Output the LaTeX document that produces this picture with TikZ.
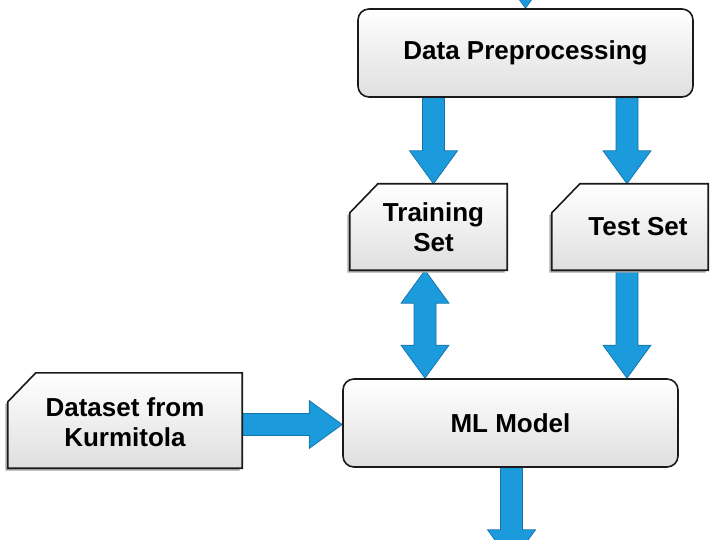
\documentclass[tikz,border=0pt]{standalone}
\usepackage{fontspec}
\setmainfont{Liberation Sans}
\usetikzlibrary{calc}
\pgfdeclarelayer{bg}
\pgfsetlayers{bg,main}
\definecolor{arrowfill}{HTML}{1B9BDC}
\definecolor{arrowline}{HTML}{1672AA}
\definecolor{boxbot}{HTML}{DFDFDF}
\definecolor{boxline}{HTML}{1A1A1A}
\tikzset{
  txt/.style={font=\fontsize{26}{30}\selectfont\bfseries, align=center},
  box/.style={txt, draw=boxline, line width=1.6pt, rounded corners=11pt,
    top color=white, bottom color=boxbot, minimum width=335pt, minimum height=88pt},
  cardarea/.style={draw=none, inner sep=0pt},
  cardstyle/.style={draw=boxline, line width=1.6pt, top color=white, bottom color=boxbot},
  cardshadow/.style={fill=black!35},
  barrow/.style={fill=arrowfill, draw=arrowline, line width=0.7pt, line join=miter}
}
\newcommand\cardpath[1]{(#1.south west) -- ($(#1.north west)+(0,29)$) -- ($(#1.north west)+(28,0)$) -- (#1.north east) -- (#1.south east) -- cycle}
\newcommand\blockarrow[2]{%
  \coordinate (ba-h) at ($(#2)!33pt!(#1)$);
  \filldraw[barrow] ($(#1)!11pt!90:(#2)$) -- ($(ba-h)!11pt!90:(#2)$) -- ($(ba-h)!24pt!90:(#2)$) -- (#2)
    -- ($(ba-h)!24pt!-90:(#2)$) -- ($(ba-h)!11pt!-90:(#2)$) -- ($(#1)!11pt!-90:(#2)$) -- cycle;}
\newcommand\dblarrow[2]{%
  \coordinate (ba-a) at ($(#1)!33pt!(#2)$);
  \coordinate (ba-b) at ($(#2)!33pt!(#1)$);
  \filldraw[barrow] (#1) -- ($(ba-a)!24pt!90:(#2)$) -- ($(ba-a)!11pt!90:(#2)$)
    -- ($(ba-b)!11pt!-90:(#1)$) -- ($(ba-b)!24pt!-90:(#1)$) -- (#2)
    -- ($(ba-b)!24pt!90:(#1)$) -- ($(ba-b)!11pt!90:(#1)$)
    -- ($(ba-a)!11pt!-90:(#2)$) -- ($(ba-a)!24pt!-90:(#2)$) -- cycle;}
\begin{document}
\begin{tikzpicture}[x=1pt,y=-1pt]
\useasboundingbox (0,0) rectangle (720,540);
\clip (0,0) rectangle (720,540);
% rounded boxes
\node[box] (dp) at (525.5,53) {Data Preprocessing};
\node[box] (ml) at (510.5,423) {ML Model};
% card areas
\node[cardarea, minimum width=157pt, minimum height=86pt] (tr) at (428.5,227) {};
\node[cardarea, minimum width=156pt, minimum height=86pt] (te) at (630,227) {};
\node[cardarea, minimum width=234pt, minimum height=95pt] (ds) at (125,420.5) {};
\begin{scope}[transform canvas={xshift=-2.5pt,yshift=-2.5pt}]
  \fill[cardshadow] \cardpath{tr};
  \fill[cardshadow] \cardpath{te};
  \fill[cardshadow] \cardpath{ds};
\end{scope}
\path[cardstyle] \cardpath{tr};
\path[cardstyle] \cardpath{te};
\path[cardstyle] \cardpath{ds};
\node[txt] (trt) at ($(tr.center)+(5,0)$) {Training\\Set};
\node[txt] (tet) at ($(te.center)+(8,0)$) {Test Set};
\node[txt] (dst) at ($(ds.center)+(0,2)$) {Dataset from\\Kurmitola};
% connectors
\begin{pgfonlayer}{bg}
  \coordinate (topin) at ($(dp.north)+(0,-60)$);
  \coordinate (botout) at ($(ml.south)+(1,95)$);
  \coordinate (a1s) at ($(dp.south -| tr.north)+(5,0)$);
  \coordinate (a1e) at ($(tr.north)+(5,0)$);
  \coordinate (a2s) at ($(dp.south -| te.north)+(-3,0)$);
  \coordinate (a2e) at ($(te.north)+(-3,0)$);
  \coordinate (a3s) at ($(tr.south)+(-3.5,0)$);
  \coordinate (a3e) at (ml.north -| a3s);
  \coordinate (a4s) at (te.south -| a2s);
  \coordinate (a4e) at (ml.north -| a2s);
  \coordinate (a5s) at ($(ds.east |- ml.west)+(0,1.5)$);
  \coordinate (a5e) at ($(ml.west)+(0,1.5)$);
  \coordinate (a6s) at ($(ml.south)+(1,0)$);
  \blockarrow{topin}{dp.north}
  \blockarrow{a1s}{a1e}
  \blockarrow{a2s}{a2e}
  \dblarrow{a3s}{a3e}
  \blockarrow{a4s}{a4e}
  \blockarrow{a5s}{a5e}
  \blockarrow{a6s}{botout}
\end{pgfonlayer}
\end{tikzpicture}
\end{document}
